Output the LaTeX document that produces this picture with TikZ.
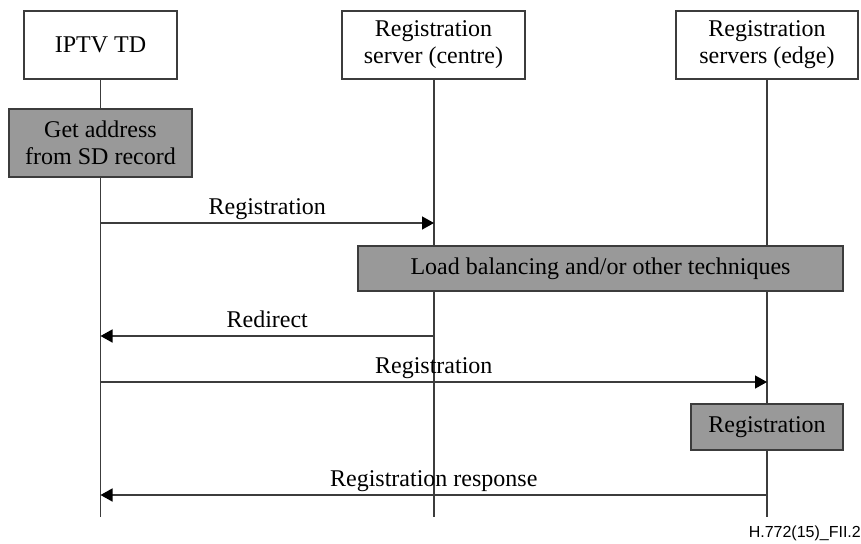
\documentclass[tikz,border=0pt]{standalone}
\usepackage{fontspec}
\setmainfont{Liberation Serif}
\newfontfamily\tagfont{Liberation Sans}
\usetikzlibrary{arrows.meta}
\definecolor{lineclr}{HTML}{3C3C3C}
\definecolor{boxfill}{HTML}{999999}
\begin{document}
\begin{tikzpicture}[x=1pt,y=-1pt,
  every node/.style={font=\fontsize{24}{27}\selectfont, text=black},
  actor/.style={draw=lineclr, line width=1.5pt, fill=white, align=center,
    inner sep=0pt, minimum height=68pt},
  action/.style={draw=lineclr, line width=1.5pt, fill=boxfill, align=center,
    inner sep=0pt},
  lifeline/.style={draw=lineclr, line width=1.5pt},
  msg/.style={draw=lineclr, line width=1.5pt,
    -{Triangle[length=12pt,width=13pt,color=black]}},
  msglabel/.style={midway, anchor=base, yshift=9pt, inner sep=0pt}]
\useasboundingbox (0,0) rectangle (861,543);

% participants
\node[actor, minimum width=153pt] (td) at (100.5,45) {IPTV TD};
\node[actor, minimum width=183pt] (rc) at (433.5,45) {Registration\\server (centre)};
\node[actor, minimum width=182pt] (re) at (767,45) {Registration\\servers (edge)};

% lifeline ends
\coordinate (tdEnd) at (100.5,517);
\coordinate (rcEnd) at (434,517);
\coordinate (reEnd) at (767,517);
\draw[lifeline] (td) -- (tdEnd);
\draw[lifeline] (rc.south -| rcEnd) -- (rcEnd);
\draw[lifeline] (re) -- (reEnd);

% local actions
\node[action, minimum width=183pt, minimum height=68pt] (getaddr) at (100.5,143)
  {Get address\\from SD record};
\node[action, minimum width=485pt, minimum height=45pt] (balance) at (600.5,268.5)
  {Load balancing and/or other techniques};
\node[action, minimum width=152pt, minimum height=46pt] (edgereg) at (767,427)
  {Registration};

% message anchor points on the lifelines
\coordinate (m1a) at (100.5,223); \coordinate (m1b) at (434,223);
\coordinate (m2a) at (434,336);   \coordinate (m2b) at (100.5,336);
\coordinate (m3a) at (100.5,382); \coordinate (m3b) at (767,382);
\coordinate (m4a) at (767,495);   \coordinate (m4b) at (100.5,495);

\draw[msg] (m1a) -- (m1b) node[msglabel] {Registration};
\draw[msg] (m2a) -- (m2b) node[msglabel] {Redirect};
\draw[msg] (m3a) -- (m3b) node[msglabel] {Registration};
\draw[msg] (m4a) -- (m4b) node[msglabel] {Registration response};

% figure tag
\node[anchor=east, inner sep=0pt, font=\tagfont\fontsize{16}{18}\selectfont]
  (figtag) at (861,533) {H.772(15)\_FII.2};
\end{tikzpicture}
\end{document}
